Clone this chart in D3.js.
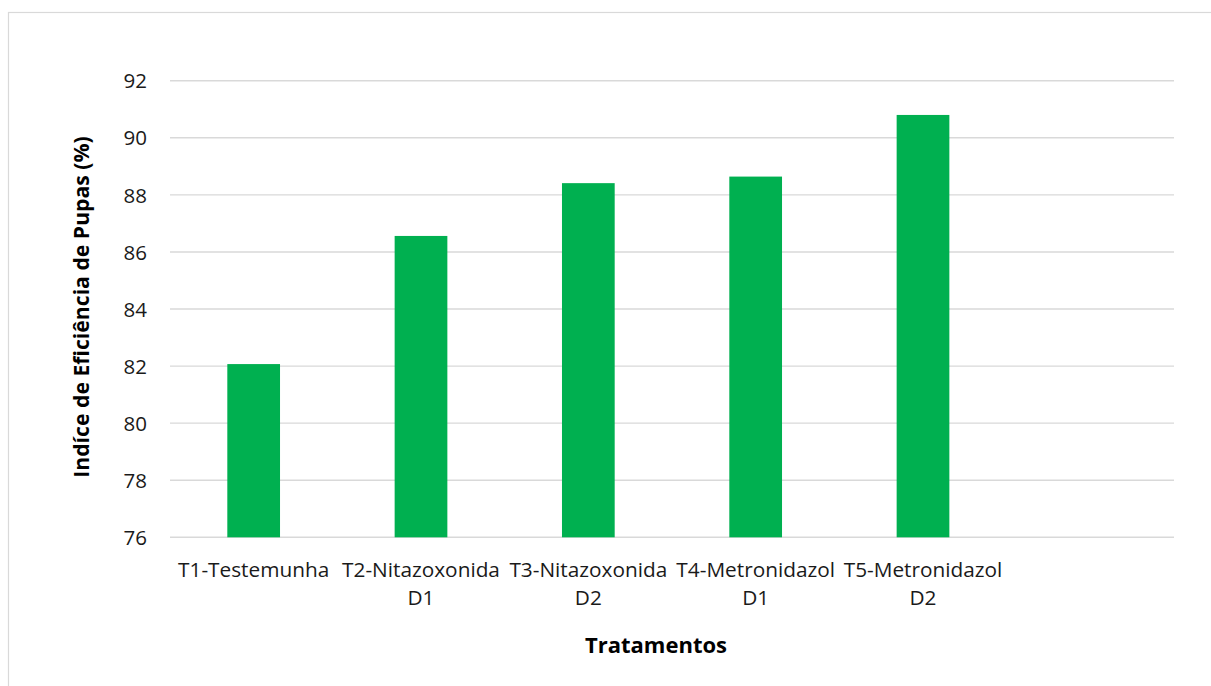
<!DOCTYPE html>
<html>
<head>
<meta charset="utf-8">
<script src="https://cdn.jsdelivr.net/npm/d3@7"></script>
<style>
  html, body { margin: 0; padding: 0; background: #fff; }
  svg { display: block; }
</style>
</head>
<body>
<svg id="chart" width="1211" height="686"></svg>
<script>
const categories = [
  "T1-Testemunha",
  "T2-Nitazoxonida\nD1",
  "T3-Nitazoxonida\nD2",
  "T4-Metronidazol\nD1",
  "T5-Metronidazol\nD2"
];
const values = [82.07, 86.56, 88.41, 88.64, 90.80];
const yTicks = [76, 78, 80, 82, 84, 86, 88, 90, 92];
const xTitle = "Tratamentos";
const yTitle = "Indíce de Eficiência de Pupas (%)";

const svg = d3.select("#chart");
const W = 1211, H = 686;
const plot = { left: 170, right: 1174, top: 80.7, bottom: 537.3 };

// outer chart border
svg.append("rect")
  .attr("x", 8.5).attr("y", 12.5)
  .attr("width", W).attr("height", H)
  .attr("fill", "#fff").attr("stroke", "#d9d9d9").attr("stroke-width", 1.2);

const domain = categories.concat([""]);
const x = d3.scaleBand()
  .domain(domain)
  .range([plot.left, plot.right])
  .paddingInner(0.685)
  .paddingOuter(0.685 / 2);

const y = d3.scaleLinear()
  .domain([76, 92])
  .range([plot.bottom, plot.top]);

const font = "'Open Sans', 'Liberation Sans', sans-serif";

// gridlines
svg.append("g")
  .selectAll("line")
  .data(yTicks)
  .join("line")
  .attr("x1", plot.left).attr("x2", plot.right)
  .attr("y1", d => y(d)).attr("y2", d => y(d))
  .attr("stroke", "#d9d9d9").attr("stroke-width", 1.4);

// y axis labels via d3 axis
const yAxis = svg.append("g")
  .attr("transform", `translate(${plot.left - 23},0)`)
  .call(d3.axisLeft(y).tickValues(yTicks).tickSize(0).tickPadding(0));
yAxis.select(".domain").remove();
yAxis.selectAll("text")
  .attr("font-family", font).attr("font-size", 20.5).attr("fill", "#1a1a1a")
  .attr("dy", "0.35em");

// bars
svg.append("g")
  .selectAll("rect")
  .data(values)
  .join("rect")
  .attr("x", (d, i) => x(categories[i]))
  .attr("width", x.bandwidth())
  .attr("y", d => y(d))
  .attr("height", d => y(76) - y(d))
  .attr("fill", "#00b050");

// x category labels
const xl = svg.append("g")
  .selectAll("text")
  .data(categories)
  .join("text")
  .attr("x", d => x(d) + x.bandwidth() / 2)
  .attr("y", 576.5)
  .attr("text-anchor", "middle")
  .attr("font-family", font).attr("font-size", 20.8).attr("fill", "#1a1a1a");
xl.each(function(d) {
  const lines = d.split("\n");
  const t = d3.select(this);
  lines.forEach((ln, k) => {
    t.append("tspan")
      .attr("x", x(d) + x.bandwidth() / 2)
      .attr("dy", k === 0 ? 0 : 28.5)
      .text(ln);
  });
});

// axis titles
svg.append("text")
  .attr("x", 656).attr("y", 653)
  .attr("text-anchor", "middle")
  .attr("font-family", font).attr("font-weight", "bold").attr("font-size", 22)
  .attr("fill", "#000")
  .text(xTitle);

svg.append("text")
  .attr("transform", `translate(89,307) rotate(-90)`)
  .attr("text-anchor", "middle")
  .attr("font-family", font).attr("font-weight", "bold").attr("font-size", 21.2)
  .attr("fill", "#000")
  .text(yTitle);
</script>
</body>
</html>
